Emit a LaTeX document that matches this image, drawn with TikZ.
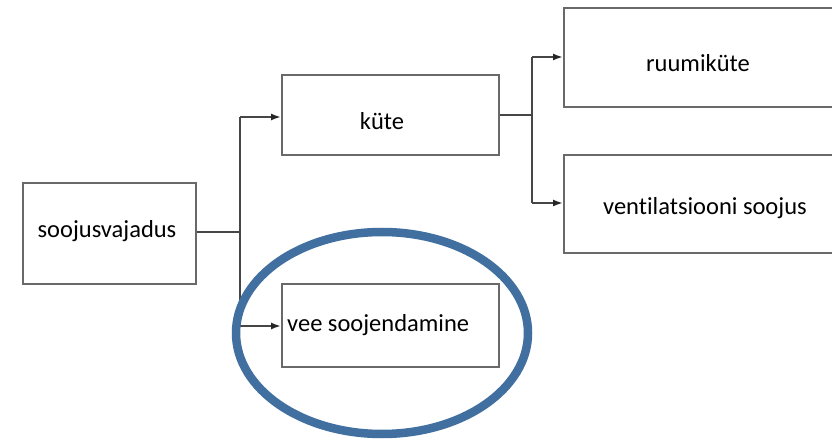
\documentclass[tikz,border=0pt]{standalone}
\usepackage{fontspec}
\setmainfont{Carlito}[Ligatures=NoCommon]
\usetikzlibrary{arrows.meta,shapes.geometric}
\definecolor{ellblue}{RGB}{65,111,160}
\definecolor{boxgray}{RGB}{105,105,105}
\definecolor{linegray}{RGB}{70,70,70}
\tikzset{
  box/.style={draw=boxgray, line width=1.9pt, rectangle, inner sep=0pt},
  lbl/.style={inner sep=0pt, font=\fontsize{24.5}{28}\selectfont, text=black},
  conn/.style={draw=linegray, line width=1.9pt},
  arr/.style={conn, -{Latex[length=10pt,width=7pt,color=black!85]}},
}
\begin{document}
\begin{tikzpicture}[x=1pt,y=-1pt]
\clip (0,0) rectangle (832,443);
\fill[white] (0,0) rectangle (832,443);
% boxes
\node[box, minimum width=173pt, minimum height=101pt] (sv) at (109.5,233.5) {};
\node[box, minimum width=217pt, minimum height=80pt] (kt) at (390.5,115) {};
\node[box, minimum width=217pt, minimum height=83pt] (vs) at (390.5,325.5) {};
\node[box, minimum width=300pt, minimum height=99pt, anchor=west] (rk) at (563,57.5) {};
\node[box, minimum width=300pt, minimum height=98pt, anchor=west] (vt) at (563,204) {};
% texts
\node[lbl] (tsv) at (107,231) {soojusvajadus};
\node[lbl] (tkt) at (382,121) {küte};
\node[lbl, anchor=west] (tvs) at (287,325) {vee soojendamine};
\node[lbl] (trk) at (698,63) {ruumiküte};
\node[lbl] (tvt) at (705,208) {ventilatsiooni soojus};
% junctions
\coordinate (j1) at (240,232);
\coordinate (j1t) at (240,117);
\coordinate (j1b) at (240,326);
\coordinate (j2) at (532,115);
\coordinate (j2t) at (532,57);
\coordinate (j2b) at (532,203);
% connectors
\draw[conn] (sv.east |- j1) -- (j1);
\draw[conn] (j1t) -- (j1b);
\draw[arr] (j1t) -- (kt.west |- j1t);
\draw[arr] (j1b) -- (vs.west |- j1b);
\draw[conn] (kt.east |- j2) -- (j2);
\draw[conn] (j2t) -- (j2b);
\draw[arr] (j2t) -- (rk.west |- j2t);
\draw[arr] (j2b) -- (vt.west |- j2b);
% ellipse
\node[draw=ellblue, line width=8.5pt, ellipse, minimum width=292pt, minimum height=202pt, inner sep=0pt] (ell) at (382,333) {};
\end{tikzpicture}
\end{document}
